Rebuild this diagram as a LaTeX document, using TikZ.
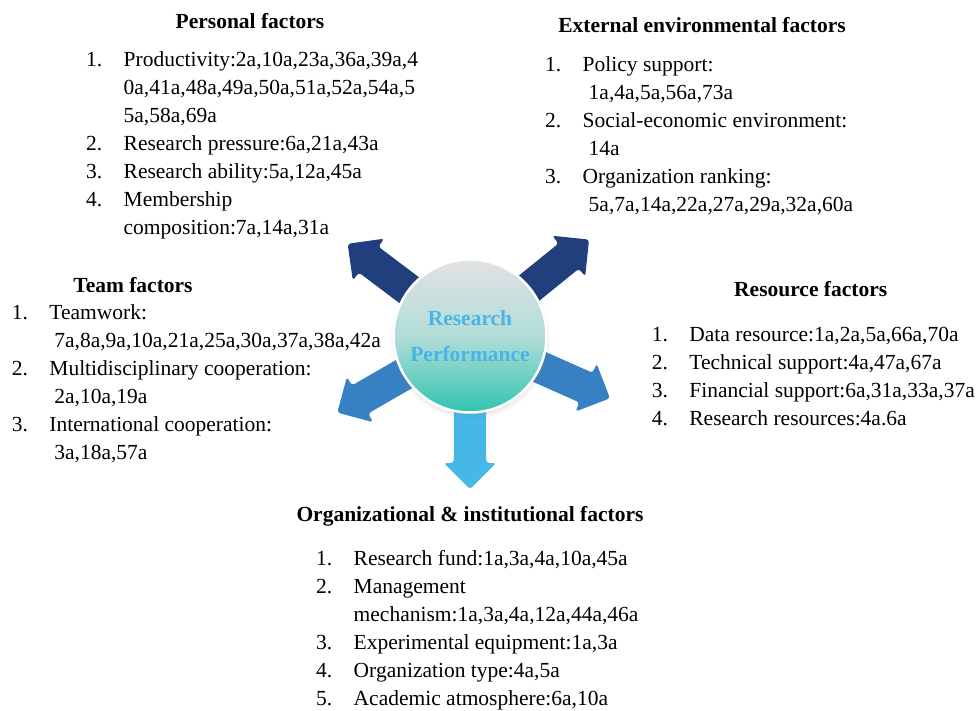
\documentclass[tikz,border=0pt]{standalone}
\usepackage{fontspec}
\setmainfont{Liberation Serif}
\usepackage{xcolor}
\usetikzlibrary{shapes.arrows, shadows, positioning}
\definecolor{navyblue}{RGB}{31,64,124}
\definecolor{midblue}{RGB}{56,128,196}
\definecolor{skyblue}{RGB}{70,184,232}
\definecolor{perftext}{RGB}{74,180,232}
\definecolor{circtop}{RGB}{226,226,226}
\definecolor{circmid}{RGB}{178,221,216}
\definecolor{circbot}{RGB}{48,196,176}
\newcommand{\listsize}{\fontsize{21.5}{28}\selectfont}

\begin{document}
\begin{tikzpicture}[x=1pt, y=-1pt,
    title/.style={anchor=base, inner sep=0pt, font=\listsize\bfseries},
    factorlist/.style={anchor=base west, inner sep=0pt, font=\listsize},
    bigarrow/.style={single arrow, anchor=tail, inner xsep=0pt, inner ysep=16pt,
        text height=0pt, text depth=0pt, single arrow head extend=10pt,
        single arrow tip angle=90, minimum height=153pt, rounded corners=3pt}]
    \useasboundingbox (0,0) rectangle (979,711);
    \coordinate (hub) at (470,336);

    % Arrows out of the hub
    \node[bigarrow, fill=navyblue, rotate=143] (toPersonal) at (hub) {};
    \node[bigarrow, fill=navyblue, rotate=39] (toExternal) at (hub) {};
    \node[bigarrow, fill=midblue, rotate=-24] (toResource) at (hub) {};
    \node[bigarrow, fill=midblue, rotate=-150] (toTeam) at (hub) {};
    \node[bigarrow, fill=skyblue, rotate=-90] (toOrg) at (hub) {};

    \node[circle, minimum size=153pt, draw=white, line width=2.5pt,
        top color=circtop, bottom color=circbot, middle color=circmid,
        circular drop shadow={shadow xshift=0pt, shadow yshift=-3pt, shadow scale=1.05, opacity=.35},
        align=center, font=\fontsize{21.5}{36.5}\selectfont\bfseries, text=perftext]
        (perf) at (hub) {Research\\Performance};

    % Factor groups
    \node[title] (personal) at (250,28.3) {Personal factors};
    \node[factorlist] (personalList) at (86,66.7) {\begin{tabular}[t]{@{}p{37.5pt}@{}l@{}}
        1. & Productivity:2a,10a,23a,36a,39a,4\\
           & 0a,41a,48a,49a,50a,51a,52a,54a,5\\
           & 5a,58a,69a\\
        2. & Research pressure:6a,21a,43a\\
        3. & Research ability:5a,12a,45a\\
        4. & Membership\\
           & composition:7a,14a,31a
    \end{tabular}};

    \node[title] (external) at (702,32.3) {External environmental factors};
    \node[factorlist] (externalList) at (545,71.7) {\begin{tabular}[t]{@{}p{37.5pt}@{}l@{}}
        1. & Policy support:\\
           & \hspace{6pt}1a,4a,5a,56a,73a\\
        2. & Social-economic environment:\\
           & \hspace{6pt}14a\\
        3. & Organization ranking:\\
           & \hspace{6pt}5a,7a,14a,22a,27a,29a,32a,60a
    \end{tabular}};

    \node[title] (team) at (133,292.7) {Team factors};
    \node[factorlist] (teamList) at (11.7,319.3) {\begin{tabular}[t]{@{}p{37.5pt}@{}l@{}}
        1. & Teamwork:\\
           & \hspace{5pt}7a,8a,9a,10a,21a,25a,30a,37a,38a,42a\\
        2. & Multidisciplinary cooperation:\\
           & \hspace{5pt}2a,10a,19a\\
        3. & International cooperation:\\
           & \hspace{5pt}3a,18a,57a
    \end{tabular}};

    \node[title] (resource) at (810.7,296) {Resource factors};
    \node[factorlist] (resourceList) at (651.7,341.7) {\begin{tabular}[t]{@{}p{37.5pt}@{}l@{}}
        1. & Data resource:1a,2a,5a,66a,70a\\
        2. & Technical support:4a,47a,67a\\
        3. & Financial support:6a,31a,33a,37a\\
        4. & Research resources:4a.6a
    \end{tabular}};

    \node[title] (org) at (470,521) {Organizational \& institutional factors};
    \node[factorlist] (orgList) at (316,565.7) {\begin{tabular}[t]{@{}p{37.5pt}@{}l@{}}
        1. & Research fund:1a,3a,4a,10a,45a\\
        2. & Management\\
           & mechanism:1a,3a,4a,12a,44a,46a\\
        3. & Experimental equipment:1a,3a\\
        4. & Organization type:4a,5a\\
        5. & Academic atmosphere:6a,10a
    \end{tabular}};
\end{tikzpicture}
\end{document}
